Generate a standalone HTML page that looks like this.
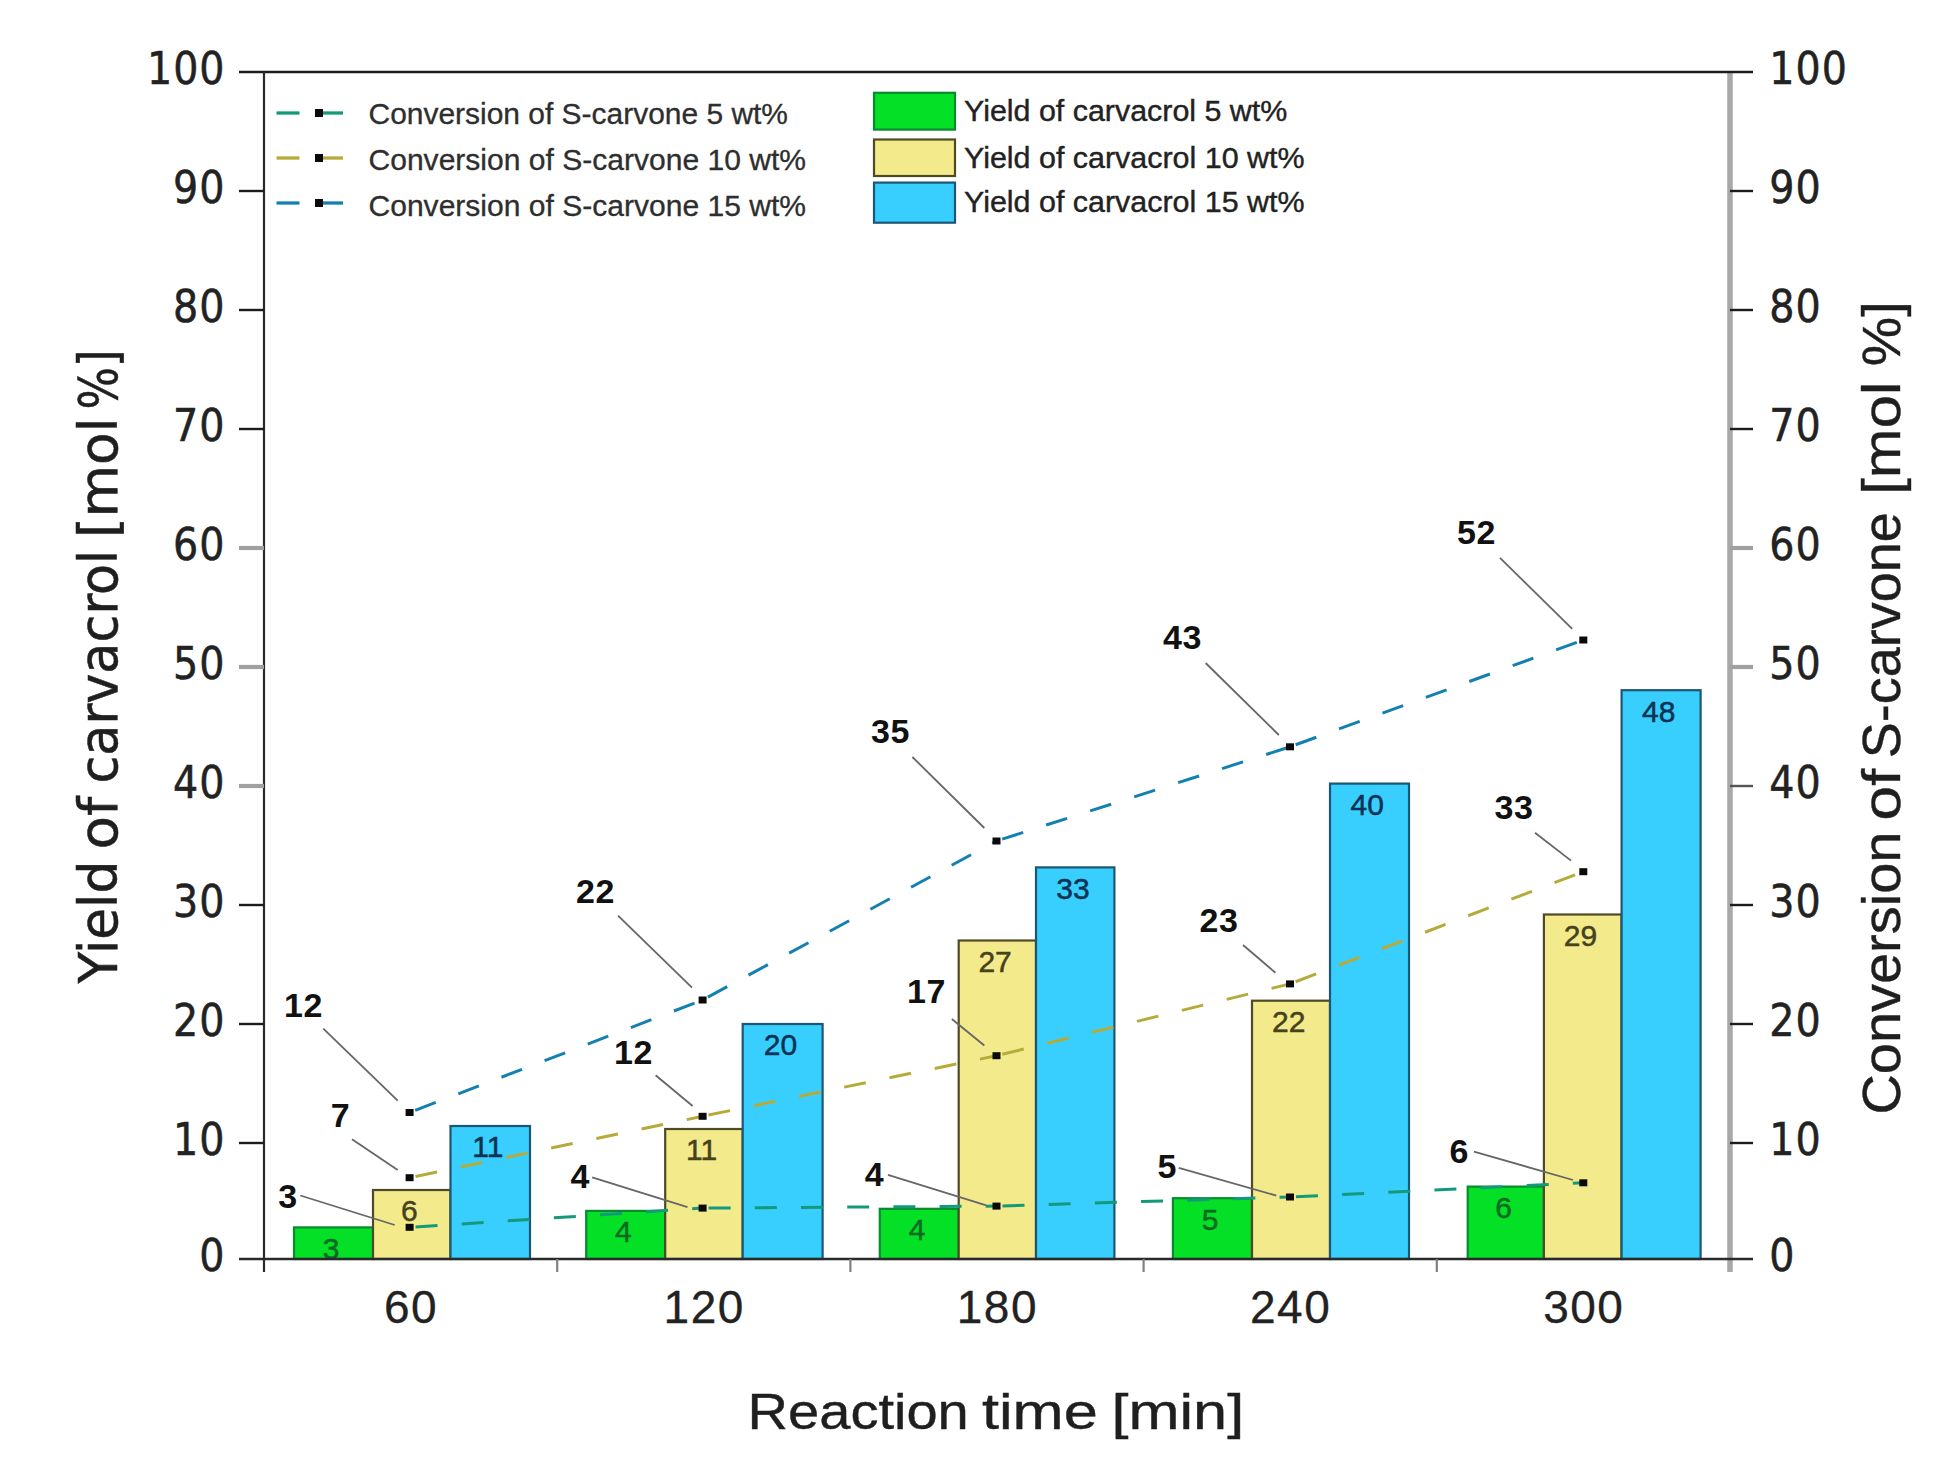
<!DOCTYPE html>
<html lang="en"><head><meta charset="utf-8"><title>Yield of carvacrol and conversion of S-carvone</title>
<style>
html,body{margin:0;padding:0;background:#fff;}
body{width:1949px;height:1476px;overflow:hidden;}
svg{display:block;}
.tk{font-family:"DejaVu Sans Condensed","DejaVu Sans","Liberation Sans",sans-serif;font-size:44px;fill:#222;stroke:#222;stroke-width:0.5px;letter-spacing:1px;}
.xt{font-family:"Liberation Sans",sans-serif;font-size:46px;fill:#222;stroke:#222;stroke-width:0.3px;letter-spacing:1.5px;}
.yl{font-family:"DejaVu Sans Condensed","DejaVu Sans","Liberation Sans",sans-serif;font-size:54px;fill:#1f1f1f;stroke:#1f1f1f;stroke-width:0.5px;}
.rl{font-family:"Liberation Sans",sans-serif;font-size:53px;fill:#1f1f1f;stroke:#1f1f1f;stroke-width:0.4px;}
.xl{font-family:"Liberation Sans",sans-serif;font-size:50px;fill:#1f1f1f;stroke:#1f1f1f;stroke-width:0.4px;}
.lg{font-family:"Liberation Sans",sans-serif;font-size:29px;fill:#2e2e2e;stroke:#2e2e2e;stroke-width:0.3px;}
.dl{font-family:"Liberation Sans",sans-serif;font-size:34px;font-weight:bold;fill:#111;letter-spacing:0.6px;}
.bl{font-family:"Liberation Sans",sans-serif;font-size:30px;}
.lg2{font-family:"Liberation Sans",sans-serif;font-size:30px;fill:#222;stroke:#222;stroke-width:0.4px;}
</style></head><body>
<svg width="1949" height="1476" viewBox="0 0 1949 1476">
<rect width="1949" height="1476" fill="#ffffff"/>
<g stroke-width="2.2">
<rect x="294.0" y="1227.4" width="79.0" height="31.6" fill="#04e026" stroke="#0a8a30"/>
<rect x="373.0" y="1190.0" width="77.5" height="69.0" fill="#f3ea8b" stroke="#4e4a26"/>
<rect x="450.5" y="1126.0" width="79.5" height="133.0" fill="#38cfff" stroke="#1d5673"/>
<rect x="586.2" y="1210.9" width="79.0" height="48.1" fill="#04e026" stroke="#0a8a30"/>
<rect x="665.2" y="1129.0" width="77.5" height="130.0" fill="#f3ea8b" stroke="#4e4a26"/>
<rect x="742.7" y="1024.0" width="79.9" height="235.0" fill="#38cfff" stroke="#1d5673"/>
<rect x="879.8" y="1208.8" width="78.9" height="50.2" fill="#04e026" stroke="#0a8a30"/>
<rect x="958.7" y="940.5" width="77.3" height="318.5" fill="#f3ea8b" stroke="#4e4a26"/>
<rect x="1036.0" y="867.4" width="78.4" height="391.6" fill="#38cfff" stroke="#1d5673"/>
<rect x="1172.9" y="1198.2" width="79.1" height="60.8" fill="#04e026" stroke="#0a8a30"/>
<rect x="1252.0" y="1000.7" width="78.0" height="258.3" fill="#f3ea8b" stroke="#4e4a26"/>
<rect x="1330.0" y="783.6" width="79.0" height="475.4" fill="#38cfff" stroke="#1d5673"/>
<rect x="1467.7" y="1186.6" width="76.2" height="72.4" fill="#04e026" stroke="#0a8a30"/>
<rect x="1543.9" y="914.5" width="77.7" height="344.5" fill="#f3ea8b" stroke="#4e4a26"/>
<rect x="1621.6" y="690.2" width="79.0" height="568.8" fill="#38cfff" stroke="#1d5673"/>
</g>
<defs><clipPath id="plot"><rect x="0" y="0" width="1949" height="1258"/></clipPath></defs>
<g class="bl" text-anchor="middle" clip-path="url(#plot)">
<text x="331.2" y="1258.7" fill="#0a6a24" stroke="#0a6a24" stroke-width="0.5">3</text>
<text x="409.4" y="1221.3" fill="#45421c" stroke="#45421c" stroke-width="0.5">6</text>
<text x="487.9" y="1157.3" fill="#0b3252" stroke="#0b3252" stroke-width="0.5">11</text>
<text x="623.4" y="1242.2" fill="#0a6a24" stroke="#0a6a24" stroke-width="0.5">4</text>
<text x="701.7" y="1160.3" fill="#45421c" stroke="#45421c" stroke-width="0.5">11</text>
<text x="780.4" y="1055.3" fill="#0b3252" stroke="#0b3252" stroke-width="0.5">20</text>
<text x="917.0" y="1240.1" fill="#0a6a24" stroke="#0a6a24" stroke-width="0.5">4</text>
<text x="995.1" y="971.8" fill="#45421c" stroke="#45421c" stroke-width="0.5">27</text>
<text x="1072.9" y="898.7" fill="#0b3252" stroke="#0b3252" stroke-width="0.5">33</text>
<text x="1210.2" y="1229.5" fill="#0a6a24" stroke="#0a6a24" stroke-width="0.5">5</text>
<text x="1288.7" y="1032.0" fill="#45421c" stroke="#45421c" stroke-width="0.5">22</text>
<text x="1367.2" y="814.9" fill="#0b3252" stroke="#0b3252" stroke-width="0.5">40</text>
<text x="1503.5" y="1217.9" fill="#0a6a24" stroke="#0a6a24" stroke-width="0.5">6</text>
<text x="1580.5" y="945.8" fill="#45421c" stroke="#45421c" stroke-width="0.5">29</text>
<text x="1658.8" y="721.5" fill="#0b3252" stroke="#0b3252" stroke-width="0.5">48</text>
</g>
<g fill="none" stroke="#14997a" stroke-width="3" stroke-dasharray="22 24.2" stroke-dashoffset="-6">
<line x1="409.6" y1="1227.3" x2="702.6" y2="1208.1"/>
<line x1="702.6" y1="1208.1" x2="996.5" y2="1206.1"/>
<line x1="996.5" y1="1206.1" x2="1290.0" y2="1197.0"/>
<line x1="1290.0" y1="1197.0" x2="1583.3" y2="1182.8"/>
</g>
<g fill="none" stroke="#b5aa3a" stroke-width="3" stroke-dasharray="22 24.2" stroke-dashoffset="-6">
<line x1="409.6" y1="1177.7" x2="702.6" y2="1116.3"/>
<line x1="702.6" y1="1116.3" x2="996.5" y2="1055.7"/>
<line x1="996.5" y1="1055.7" x2="1290.0" y2="983.9"/>
<line x1="1290.0" y1="983.9" x2="1583.3" y2="871.7"/>
</g>
<g fill="none" stroke="#1480b0" stroke-width="3" stroke-dasharray="22 24.2" stroke-dashoffset="-6">
<line x1="409.6" y1="1112.5" x2="702.6" y2="1000.0"/>
<line x1="702.6" y1="1000.0" x2="996.5" y2="841.0"/>
<line x1="996.5" y1="841.0" x2="1290.0" y2="746.8"/>
<line x1="1290.0" y1="746.8" x2="1583.3" y2="640.0"/>
</g>
<g fill="#0a0a0a">
<rect x="405.6" y="1223.8" width="8" height="7"/>
<rect x="698.6" y="1204.6" width="8" height="7"/>
<rect x="992.5" y="1202.6" width="8" height="7"/>
<rect x="1286.0" y="1193.5" width="8" height="7"/>
<rect x="1579.3" y="1179.3" width="8" height="7"/>
<rect x="405.6" y="1174.2" width="8" height="7"/>
<rect x="698.6" y="1112.8" width="8" height="7"/>
<rect x="992.5" y="1052.2" width="8" height="7"/>
<rect x="1286.0" y="980.4" width="8" height="7"/>
<rect x="1579.3" y="868.2" width="8" height="7"/>
<rect x="405.6" y="1109.0" width="8" height="7"/>
<rect x="698.6" y="996.5" width="8" height="7"/>
<rect x="992.5" y="837.5" width="8" height="7"/>
<rect x="1286.0" y="743.3" width="8" height="7"/>
<rect x="1579.3" y="636.5" width="8" height="7"/>
</g>
<g stroke="#666" stroke-width="1.8">
<line x1="323.3" y1="1028.7" x2="397.7" y2="1100.6"/>
<line x1="352" y1="1139.3" x2="397.7" y2="1170"/>
<line x1="300.3" y1="1195.5" x2="394.7" y2="1225"/>
<line x1="618" y1="915.7" x2="692" y2="987.6"/>
<line x1="655.6" y1="1075.2" x2="692.6" y2="1106"/>
<line x1="592.2" y1="1177.4" x2="687.5" y2="1207.2"/>
<line x1="912.4" y1="757" x2="984.3" y2="828"/>
<line x1="951.8" y1="1019" x2="984.3" y2="1045.5"/>
<line x1="888" y1="1174.8" x2="986.3" y2="1205.3"/>
<line x1="1205.6" y1="663" x2="1278.8" y2="735"/>
<line x1="1243" y1="945" x2="1275.4" y2="972.7"/>
<line x1="1178.8" y1="1167.8" x2="1276.3" y2="1195.6"/>
<line x1="1500" y1="557.8" x2="1572.2" y2="628.9"/>
<line x1="1535" y1="832.8" x2="1571" y2="860.6"/>
<line x1="1473.9" y1="1151.6" x2="1573" y2="1180"/>
</g>
<g class="dl" text-anchor="middle">
<text x="303.6" y="1016.5">12</text>
<text x="340.6" y="1127.0">7</text>
<text x="288.1" y="1208.4">3</text>
<text x="595.5" y="903.2">22</text>
<text x="633.6" y="1063.6">12</text>
<text x="580.2" y="1187.9">4</text>
<text x="890.4" y="742.7">35</text>
<text x="926.4" y="1002.8">17</text>
<text x="874.5" y="1185.8">4</text>
<text x="1182.5" y="649.3">43</text>
<text x="1219.0" y="932.2">23</text>
<text x="1167.3" y="1177.6">5</text>
<text x="1476.4" y="543.9">52</text>
<text x="1513.9" y="818.9">33</text>
<text x="1459.2" y="1163.0">6</text>
</g>
<line x1="1730.0" y1="72.0" x2="1730.0" y2="1272" stroke="#a8a8a8" stroke-width="5.5"/>
<line x1="239" y1="72.0" x2="1753" y2="72.0" stroke="#1c1c1c" stroke-width="2.4"/>
<line x1="239" y1="1259.0" x2="1753" y2="1259.0" stroke="#2a2a2a" stroke-width="2.4"/>
<line x1="264.0" y1="72.0" x2="264.0" y2="1272" stroke="#2a2a2a" stroke-width="2.2"/>
<line x1="239" y1="1143.0" x2="264.0" y2="1143.0" stroke="#1c1c1c" stroke-width="2.4"/>
<line x1="1730.0" y1="1143.0" x2="1753" y2="1143.0" stroke="#1c1c1c" stroke-width="2.4"/>
<line x1="239" y1="1024.0" x2="264.0" y2="1024.0" stroke="#1c1c1c" stroke-width="2.4"/>
<line x1="1730.0" y1="1024.0" x2="1753" y2="1024.0" stroke="#1c1c1c" stroke-width="2.4"/>
<line x1="239" y1="905.0" x2="264.0" y2="905.0" stroke="#1c1c1c" stroke-width="2.4"/>
<line x1="1730.0" y1="905.0" x2="1753" y2="905.0" stroke="#1c1c1c" stroke-width="2.4"/>
<line x1="239" y1="786.0" x2="264.0" y2="786.0" stroke="#a0a0a0" stroke-width="4.2"/>
<line x1="1730.0" y1="786.0" x2="1753" y2="786.0" stroke="#555" stroke-width="2.4"/>
<line x1="239" y1="667.0" x2="264.0" y2="667.0" stroke="#a0a0a0" stroke-width="4.2"/>
<line x1="1730.0" y1="667.0" x2="1753" y2="667.0" stroke="#a0a0a0" stroke-width="4.2"/>
<line x1="239" y1="548.0" x2="264.0" y2="548.0" stroke="#a0a0a0" stroke-width="4.2"/>
<line x1="1730.0" y1="548.0" x2="1753" y2="548.0" stroke="#a0a0a0" stroke-width="4.2"/>
<line x1="239" y1="429.0" x2="264.0" y2="429.0" stroke="#1c1c1c" stroke-width="2.4"/>
<line x1="1730.0" y1="429.0" x2="1753" y2="429.0" stroke="#1c1c1c" stroke-width="2.4"/>
<line x1="239" y1="310.0" x2="264.0" y2="310.0" stroke="#1c1c1c" stroke-width="2.4"/>
<line x1="1730.0" y1="310.0" x2="1753" y2="310.0" stroke="#1c1c1c" stroke-width="2.4"/>
<line x1="239" y1="191.0" x2="264.0" y2="191.0" stroke="#1c1c1c" stroke-width="2.4"/>
<line x1="1730.0" y1="191.0" x2="1753" y2="191.0" stroke="#1c1c1c" stroke-width="2.4"/>
<line x1="557.2" y1="1259.0" x2="557.2" y2="1272" stroke="#808080" stroke-width="2.2"/>
<line x1="850.4" y1="1259.0" x2="850.4" y2="1272" stroke="#808080" stroke-width="2.2"/>
<line x1="1143.6" y1="1259.0" x2="1143.6" y2="1272" stroke="#808080" stroke-width="2.2"/>
<line x1="1436.8" y1="1259.0" x2="1436.8" y2="1272" stroke="#808080" stroke-width="2.2"/>
<g class="tk" text-anchor="end">
<text x="225.5" y="1270.7" textLength="26.2" lengthAdjust="spacingAndGlyphs">0</text>
<text x="225.5" y="1154.7" textLength="52.4" lengthAdjust="spacingAndGlyphs">10</text>
<text x="225.5" y="1035.7" textLength="52.4" lengthAdjust="spacingAndGlyphs">20</text>
<text x="225.5" y="916.7" textLength="52.4" lengthAdjust="spacingAndGlyphs">30</text>
<text x="225.5" y="797.7" textLength="52.4" lengthAdjust="spacingAndGlyphs">40</text>
<text x="225.5" y="678.7" textLength="52.4" lengthAdjust="spacingAndGlyphs">50</text>
<text x="225.5" y="559.7" textLength="52.4" lengthAdjust="spacingAndGlyphs">60</text>
<text x="225.5" y="440.7" textLength="52.4" lengthAdjust="spacingAndGlyphs">70</text>
<text x="225.5" y="321.7" textLength="52.4" lengthAdjust="spacingAndGlyphs">80</text>
<text x="225.5" y="202.7" textLength="52.4" lengthAdjust="spacingAndGlyphs">90</text>
<text x="225.5" y="83.7" textLength="78.5" lengthAdjust="spacingAndGlyphs">100</text>
</g>
<g class="tk" text-anchor="start">
<text x="1769.3" y="1270.7" textLength="26.2" lengthAdjust="spacingAndGlyphs">0</text>
<text x="1769.3" y="1154.7" textLength="52.4" lengthAdjust="spacingAndGlyphs">10</text>
<text x="1769.3" y="1035.7" textLength="52.4" lengthAdjust="spacingAndGlyphs">20</text>
<text x="1769.3" y="916.7" textLength="52.4" lengthAdjust="spacingAndGlyphs">30</text>
<text x="1769.3" y="797.7" textLength="52.4" lengthAdjust="spacingAndGlyphs">40</text>
<text x="1769.3" y="678.7" textLength="52.4" lengthAdjust="spacingAndGlyphs">50</text>
<text x="1769.3" y="559.7" textLength="52.4" lengthAdjust="spacingAndGlyphs">60</text>
<text x="1769.3" y="440.7" textLength="52.4" lengthAdjust="spacingAndGlyphs">70</text>
<text x="1769.3" y="321.7" textLength="52.4" lengthAdjust="spacingAndGlyphs">80</text>
<text x="1769.3" y="202.7" textLength="52.4" lengthAdjust="spacingAndGlyphs">90</text>
<text x="1769.3" y="83.7" textLength="78.5" lengthAdjust="spacingAndGlyphs">100</text>
</g>
<g class="xt" text-anchor="middle">
<text x="411.0" y="1323.3">60</text>
<text x="704.2" y="1323.3">120</text>
<text x="997.4" y="1323.3">180</text>
<text x="1290.6" y="1323.3">240</text>
<text x="1583.8" y="1323.3">300</text>
</g>
<text class="xl" transform="translate(0,1428.5)" xml:space="preserve"><tspan x="747.6" textLength="221.2" lengthAdjust="spacingAndGlyphs">Reaction</tspan> <tspan x="981.9" textLength="115.9" lengthAdjust="spacingAndGlyphs">time</tspan> <tspan x="1111.4" textLength="132.8" lengthAdjust="spacingAndGlyphs">[min]</tspan></text>
<text class="yl" transform="translate(116.7,981.8) rotate(-90)" xml:space="preserve"><tspan x="-1.8" textLength="122.8" lengthAdjust="spacingAndGlyphs">Yield</tspan> <tspan x="132.4" textLength="52.6" lengthAdjust="spacingAndGlyphs">of</tspan> <tspan x="198.2" textLength="233.8" lengthAdjust="spacingAndGlyphs">carvacrol</tspan> <tspan x="443.8" textLength="120.6" lengthAdjust="spacingAndGlyphs">[mol</tspan> <tspan x="572.4" textLength="60.0" lengthAdjust="spacingAndGlyphs">%]</tspan></text>
<text class="rl" transform="translate(1899.8,1110.3) rotate(-90)" xml:space="preserve"><tspan x="-4.3" textLength="283.0" lengthAdjust="spacingAndGlyphs">Conversion</tspan> <tspan x="289.7" textLength="51.8" lengthAdjust="spacingAndGlyphs">of</tspan> <tspan x="352.1" textLength="246.0" lengthAdjust="spacingAndGlyphs">S-carvone</tspan> <tspan x="615.5" textLength="113.0" lengthAdjust="spacingAndGlyphs">[mol</tspan> <tspan x="744.1" textLength="64.8" lengthAdjust="spacingAndGlyphs">%]</tspan></text>
<line x1="276.5" y1="113" x2="299.5" y2="113" stroke="#14997a" stroke-width="3.3"/>
<line x1="322" y1="113" x2="343" y2="113" stroke="#14997a" stroke-width="3.3"/>
<rect x="315" y="109" width="8" height="8" fill="#0a0a0a"/>
<text class="lg" x="368.5" y="124" textLength="419.5" lengthAdjust="spacingAndGlyphs">Conversion of S-carvone 5 wt%</text>
<line x1="276.5" y1="158" x2="299.5" y2="158" stroke="#b5aa3a" stroke-width="3.3"/>
<line x1="322" y1="158" x2="343" y2="158" stroke="#b5aa3a" stroke-width="3.3"/>
<rect x="315" y="154" width="8" height="8" fill="#0a0a0a"/>
<text class="lg" x="368.5" y="170" textLength="437.5" lengthAdjust="spacingAndGlyphs">Conversion of S-carvone 10 wt%</text>
<line x1="276.5" y1="203" x2="299.5" y2="203" stroke="#1480b0" stroke-width="3.3"/>
<line x1="322" y1="203" x2="343" y2="203" stroke="#1480b0" stroke-width="3.3"/>
<rect x="315" y="199" width="8" height="8" fill="#0a0a0a"/>
<text class="lg" x="368.5" y="215.5" textLength="437.5" lengthAdjust="spacingAndGlyphs">Conversion of S-carvone 15 wt%</text>
<rect x="874" y="92.8" width="81" height="36.8" fill="#04e026" stroke="#0a8a30" stroke-width="2.2"/>
<text class="lg2" x="964" y="121.3" textLength="323.3" lengthAdjust="spacingAndGlyphs">Yield of carvacrol 5 wt%</text>
<rect x="874" y="139.5" width="81" height="36.5" fill="#f3ea8b" stroke="#4e4a26" stroke-width="2.2"/>
<text class="lg2" x="964" y="168" textLength="340.5" lengthAdjust="spacingAndGlyphs">Yield of carvacrol 10 wt%</text>
<rect x="874" y="182.6" width="81" height="40.1" fill="#38cfff" stroke="#1d5673" stroke-width="2.2"/>
<text class="lg2" x="964" y="212" textLength="340.5" lengthAdjust="spacingAndGlyphs">Yield of carvacrol 15 wt%</text>
</svg></body></html>
